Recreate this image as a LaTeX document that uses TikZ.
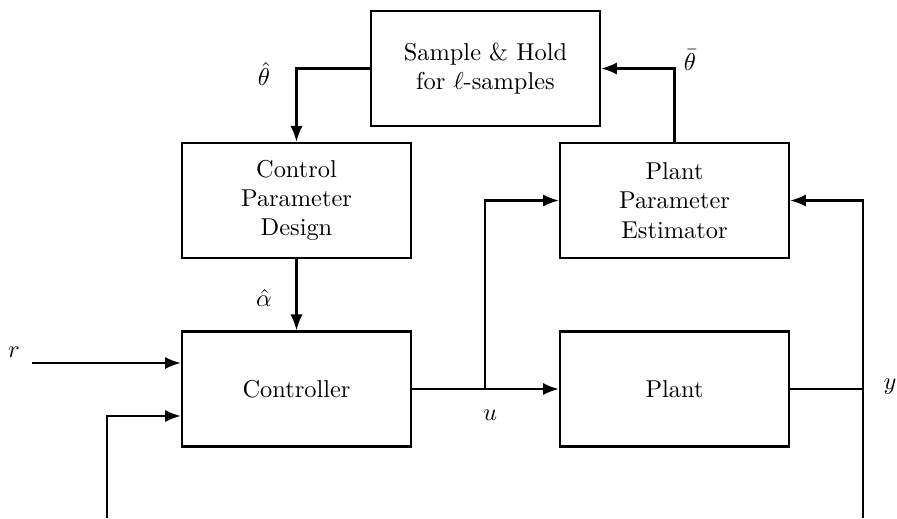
\documentclass[tikz,border=0pt]{standalone}
\usetikzlibrary{arrows.meta}
\begin{document}
\begin{tikzpicture}[x=0.41pt,y=-0.41pt,
  blk/.style={draw,line width=0.9pt,minimum width=93.9pt,minimum height=47.2pt,inner sep=0pt,align=center,font=\normalsize},
  conn/.style={line width=0.9pt},
  arr/.style={conn,-{Latex[length=6.5pt,width=5pt]}},
  lbl/.style={inner sep=0pt}]
\useasboundingbox (0,0) rectangle (897,518);
\node[blk] (sh) at (485.5,68.5) {Sample \& Hold\\for $\ell$-samples};
\node[blk] (cpd) at (296.5,200.5) {Control\\Parameter\\Design};
\node[blk] (ppe) at (674.5,200.5) {Plant\\Parameter\\Estimator};
\node[blk] (ctrl) at (296.5,389) {Controller};
\node[blk] (plant) at (674.5,389) {Plant};
\coordinate (rin) at (32,363);
\coordinate (fb) at (107,518);
\coordinate (fbend) at (182,416);
\coordinate (ub) at (485,389);
\coordinate (yb) at (863,389);
\coordinate (ybot) at (863,518);
\draw[arr] (rin) -- (rin -| ctrl.west);
\draw[arr] (fb) |- (fbend -| ctrl.west);
\draw[arr] (ctrl.east) -- (plant.west);
\draw[arr] (ub) |- (ppe.west);
\draw[conn] (plant.east) -- (yb);
\draw[arr] (ybot) |- (ppe.east);
\draw[arr] (ppe.north) |- (sh.east);
\draw[arr] (sh.west) -| (cpd.north);
\draw[arr] (cpd.south) -- (ctrl.north);
\node[lbl] (lth) at (264,74) {$\hat\theta$};
\node[lbl] (lthb) at (690,60) {$\bar\theta$};
\node[lbl] (lal) at (264,298) {$\hat\alpha$};
\node[lbl] (lu) at (490,415) {$u$};
\node[lbl] (ly) at (890,387) {$y$};
\node[lbl] (lr) at (14,352) {$r$};
\end{tikzpicture}
\end{document}
